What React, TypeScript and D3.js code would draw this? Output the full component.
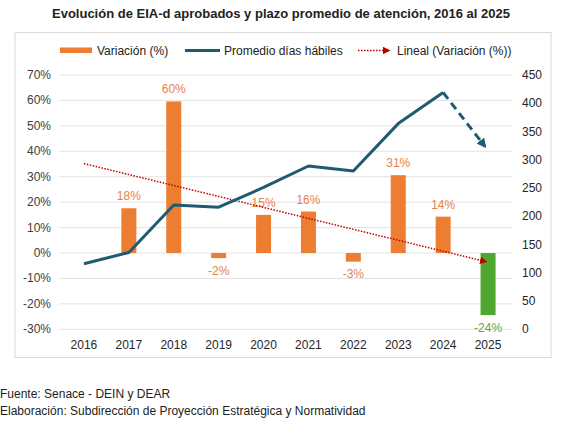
import React from "react";
import * as d3 from "d3";

const years = ["2016", "2017", "2018", "2019", "2020", "2021", "2022", "2023", "2024", "2025"];
const variation: (number | null)[] = [null, 17.6, 59.6, -2, 15, 16.3, -3.4, 30.6, 14.3, -24.4];
const avgDays = [116, 136, 220, 216, 251, 289, 280, 364, 419, 318];
const leftTicks = [-30, -20, -10, 0, 10, 20, 30, 40, 50, 60, 70];
const rightTicks = [0, 50, 100, 150, 200, 250, 300, 350, 400, 450];

const ORANGE = "#ED7D31";
const LABEL_ORANGE = "#E4824A";
const GREEN = "#4EA72E";
const TEAL = "#1F5B70";
const RED = "#C00000";
const FONT = "'Liberation Sans', Arial, sans-serif";

const App: React.FC = () => {
  const x = d3.scalePoint<string>().domain(years).range([61.5, 510.5]).padding(0.5);
  const yLeft = d3.scaleLinear().domain([-30, 70]).range([329.3, 75]);
  const yRight = d3.scaleLinear().domain([0, 450]).range([329.3, 75]);
  const barW = 15;

  // linear trendline (least squares) over the available variation values
  const pts = variation
    .map((v, i) => ({ i: i + 1, v }))
    .filter((p) => p.v !== null) as { i: number; v: number }[];
  const mx = d3.mean(pts, (p) => p.i)!;
  const my = d3.mean(pts, (p) => p.v)!;
  const slope =
    d3.sum(pts, (p) => (p.i - mx) * (p.v - my)) / d3.sum(pts, (p) => (p.i - mx) ** 2);
  const trendAt = (i: number) => my + slope * (i - mx);

  const line = d3
    .line<number>()
    .x((_, i) => x(years[i])!)
    .y((d) => yRight(d));
  const solidPath = line(avgDays.slice(0, 9));
  const last = avgDays.length - 1;

  return (
    <svg
      width={562}
      height={424}
      style={{ position: "absolute", left: 0, top: 0, background: "#fff" }}
      fontFamily={FONT}
    >
      <defs>
        <marker id="arrTeal" viewBox="0 0 10 10" refX="8" refY="5" markerWidth="3.2" markerHeight="3.2" orient="auto">
          <path d="M0,0 L10,5 L0,10 z" fill={TEAL} />
        </marker>
        <marker id="arrRed" viewBox="0 0 10 10" refX="8" refY="5" markerWidth="5" markerHeight="5" orient="auto">
          <path d="M0,0 L10,5 L0,10 z" fill={RED} />
        </marker>
      </defs>
      <rect width={562} height={424} fill="#fff" />
      <text x={281} y={18} textAnchor="middle" fontSize={13} fontWeight="bold" fill="#222">
        Evolución de EIA-d aprobados y plazo promedio de atención, 2016 al 2025
      </text>
      <rect x={15} y={32.5} width={536} height={325} fill="none" stroke="#d9d9d9" />

      {/* legend */}
      <rect x={60} y={47.5} width={32} height={5.5} fill={ORANGE} />
      <text x={97} y={54.5} fontSize={12} fill="#222">Variación (%)</text>
      <line x1={185} x2={220} y1={50.5} y2={50.5} stroke={TEAL} strokeWidth={3} />
      <text x={224} y={54.5} fontSize={12} fill="#222">Promedio días hábiles</text>
      <line x1={358} x2={389} y1={50.5} y2={50.5} stroke={RED} strokeWidth={1.5} strokeDasharray="1.5,1.5" markerEnd="url(#arrRed)" />
      <text x={397} y={54.5} fontSize={12} fill="#222">Lineal (Variación (%))</text>

      {/* gridlines and left axis */}
      {leftTicks.map((t) => (
        <g key={t}>
          <line x1={59} x2={512} y1={yLeft(t)} y2={yLeft(t)} stroke="#e3e3e3" />
          <text x={51} y={yLeft(t) + 4} textAnchor="end" fontSize={12} fill="#404040">
            {t}%
          </text>
        </g>
      ))}
      {rightTicks.map((t) => (
        <text key={t} x={522} y={yRight(t) + 4} fontSize={12} fill="#262626">
          {t}
        </text>
      ))}
      {years.map((yr) => (
        <text key={yr} x={x(yr)} y={348.5} textAnchor="middle" fontSize={12} fill="#262626">
          {yr}
        </text>
      ))}

      {/* bars */}
      {variation.map((v, i) => {
        if (v === null) return null;
        const cx = x(years[i])!;
        const neg = v < 0;
        const isLast = i === last;
        const color = isLast ? GREEN : ORANGE;
        return (
          <g key={years[i]}>
            <rect
              x={cx - barW / 2}
              y={Math.min(yLeft(v), yLeft(0))}
              width={barW}
              height={Math.abs(yLeft(v) - yLeft(0))}
              fill={color}
            />
            <text
              x={cx}
              y={neg ? yLeft(v) + 16.5 : yLeft(v) - 8}
              textAnchor="middle"
              fontSize={12}
              fill={isLast ? "#5BA84A" : LABEL_ORANGE}
            >
              {Math.round(v)}%
            </text>
          </g>
        );
      })}

      {/* trendline */}
      <line
        x1={x(years[0])}
        y1={yLeft(trendAt(1))}
        x2={x(years[last])! - 2}
        y2={yLeft(trendAt(years.length))}
        stroke={RED}
        strokeWidth={1.5}
        strokeDasharray="1.5,1.5"
        markerEnd="url(#arrRed)"
      />

      {/* average days line */}
      <path d={solidPath ?? ""} fill="none" stroke={TEAL} strokeWidth={3} strokeLinejoin="round" />
      <line
        x1={x(years[last - 1])}
        y1={yRight(avgDays[last - 1])}
        x2={x(years[last])! - 3}
        y2={yRight(avgDays[last]) - 3}
        stroke={TEAL}
        strokeWidth={3}
        strokeDasharray="8,5"
        markerEnd="url(#arrTeal)"
      />

      <text x={0} y={398} fontSize={12} fill="#222">Fuente: Senace - DEIN y DEAR</text>
      <text x={0} y={415} fontSize={12} fill="#222">
        Elaboración: Subdirección de Proyección Estratégica y Normatividad
      </text>
    </svg>
  );
};

export default App;
